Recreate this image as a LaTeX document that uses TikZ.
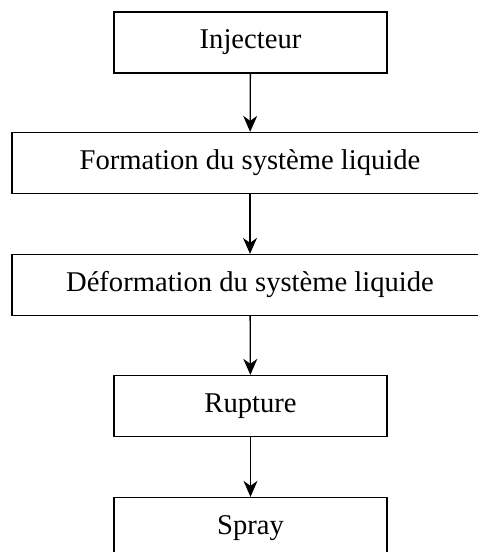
\documentclass[tikz,border=0pt]{standalone}
\usepackage{fontspec}
\setmainfont{Liberation Serif}
\usetikzlibrary{arrows.meta}
\begin{document}
\begin{tikzpicture}[x=1pt,y=-1pt,
  stepbox/.style={draw,line width=1.3pt,minimum height=61pt,inner sep=0pt,font=\fontsize{28.6}{32}\selectfont},
  flow/.style={line width=1.3pt,-{Stealth[length=16pt,width=14pt,inset=5pt]}}]
\useasboundingbox (0,0) rectangle (478,552);
\clip (0,0) rectangle (478,552);
\node[stepbox,minimum width=273pt] (inj) at (250.5,42.5) {Injecteur};
\node[stepbox,minimum width=476pt] (form) at (250,163) {Formation du système liquide};
\node[stepbox,minimum width=476pt] (def) at (250,285) {Déformation du système liquide};
\node[stepbox,minimum width=273pt] (rup) at (250.5,406) {Rupture};
\node[stepbox,minimum width=273pt] (spr) at (250.5,528) {Spray};
\draw[flow] (inj) -- (form);
\draw[flow] (form) -- (def);
\draw[flow] (def) -- (rup);
\draw[flow] (rup) -- (spr);
\end{tikzpicture}
\end{document}
